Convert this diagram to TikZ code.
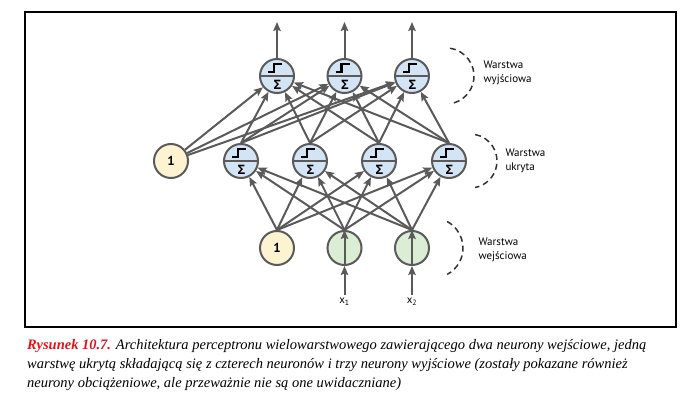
\documentclass[tikz,border=0pt]{standalone}
\usepackage{fontspec}
\setmainfont{Liberation Serif}
\newfontfamily\labelfont{PT Sans}
\newfontfamily\sigmafont{Open Sans}
\usepackage{tikz}
\usetikzlibrary{arrows,arrows.meta,shapes,positioning,calc}

\definecolor{linegray}{HTML}{5A5A5A}
\definecolor{neuronblue}{HTML}{D3E4F5}
\definecolor{biasyellow}{HTML}{FDF3D0}
\definecolor{inputgreen}{HTML}{DCEDD6}
\definecolor{captionred}{HTML}{E8111A}

\begin{document}
\begin{tikzpicture}[
    x=1pt, y=-1pt,
    neuron/.style={circle, draw=linegray, fill=neuronblue, line width=2pt,
                   minimum size=34pt, inner sep=0pt,
                   path picture={
                     \draw[linegray, line width=2pt] (path picture bounding box.west) -- (path picture bounding box.east);
                     \draw[black, line width=2.4pt] ($(path picture bounding box.center)+(-9,-4)$)
                        -- ++(6,0) -- ++(0,-8) -- ++(8,0);
                     \node[inner sep=0pt, font=\sigmafont\bfseries\fontsize{13}{12}\selectfont]
                        at ($(path picture bounding box.center)+(0.5,9)$) {Σ};
                   }},
    bias/.style={circle, draw=linegray, fill=biasyellow, line width=2pt,
                 minimum size=34pt, inner sep=0pt, font=\labelfont\bfseries\fontsize{13}{13}\selectfont},
    inp/.style={circle, draw=linegray, fill=inputgreen, line width=2pt,
                minimum size=34pt, inner sep=0pt},
    arrow/.style={-{Stealth[length=9pt,width=7.5pt,inset=1.5pt]}, linegray, line width=2pt},
    layer/.style={dashed, dash pattern=on 6pt off 4pt, draw=black!80, line width=1.5pt},
    tag/.style={anchor=west, align=left, font=\labelfont\fontsize{11}{14}\selectfont}
]
\useasboundingbox (0,0) rectangle (683,401);

% Frame
\draw[line width=1.3pt] (25,12) rectangle (676,327);

% Nodes
\node[neuron] (o1) at (277,76) {};
\node[neuron] (o2) at (344.5,76) {};
\node[neuron] (o3) at (412,76) {};

\node[bias]   (hb) at (171,161) {1};
\node[neuron] (h1) at (241,161) {};
\node[neuron] (h2) at (310,161) {};
\node[neuron] (h3) at (379,161) {};
\node[neuron] (h4) at (449,161) {};

\node[bias] (ib) at (277,248) {1};
\node[inp]  (i1) at (344.5,248) {};
\node[inp]  (i2) at (412,248) {};

\node[font=\labelfont\fontsize{11}{11}\selectfont] (x1) at (344.5,302) {x\textsubscript{1}};
\node[font=\labelfont\fontsize{11}{11}\selectfont] (x2) at (412,302) {x\textsubscript{2}};

\coordinate (y1) at (277,22);
\coordinate (y2) at (344.5,22);
\coordinate (y3) at (412,22);

% Arrows
\draw[arrow] (x1.north) -- (i1.south);
\draw[arrow] (x2.north) -- (i2.south);
\draw[arrow] (i1.south) -- (i1.north);
\draw[arrow] (i2.south) -- (i2.north);

\foreach \h in {h1,h2,h3,h4} {
  \draw[arrow] (ib.north) -- (\h);
  \draw[arrow] (i1.north) -- (\h);
  \draw[arrow] (i2.north) -- (\h);
}
\foreach \o in {o1,o2,o3} {
  \draw[arrow] (hb) -- (\o);
  \foreach \h in {h1,h2,h3,h4}
    \draw[arrow] (\h.north) -- (\o);
}

\draw[arrow] (o1) -- (y1);
\draw[arrow] (o2) -- (y2);
\draw[arrow] (o3) -- (y3);

% Layers
\draw[layer] (446,76) ++(-82:28) arc (-82:82:28);
\draw[layer] (470,161) ++(-79:27) arc (-79:79:27);
\draw[layer] (433,248) ++(-62:30) arc (-62:62:30);

% Labels
\node[tag] (lo) at (480,73) {Warstwa\\wyjściowa};
\node[tag] (lh) at (502,161) {Warstwa\\ukryta};
\node[tag] (li) at (475,250) {Warstwa\\wejściowa};

% Caption
\node[anchor=north west, align=left, inner sep=0pt,
      font=\itshape\fontsize{14.5}{19}\selectfont] (caption) at (27,339)
  {{\color{captionred}\bfseries Rysunek 10.7.} Architektura perceptronu wielowarstwowego zawierającego dwa neurony wejściowe, jedną\\
   warstwę ukrytą składającą się z czterech neuronów i trzy neurony wyjściowe (zostały pokazane również\\
   neurony obciążeniowe, ale przeważnie nie są one uwidaczniane)};

\end{tikzpicture}
\end{document}
